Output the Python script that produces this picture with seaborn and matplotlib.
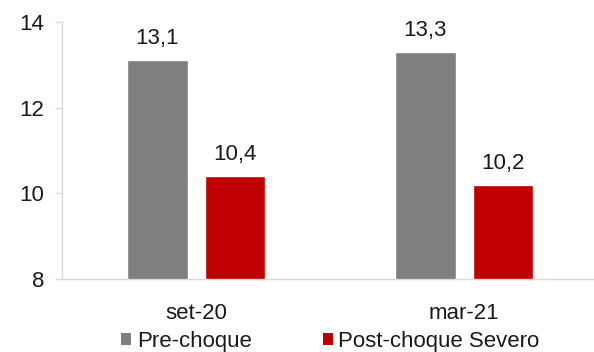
import matplotlib
matplotlib.use("Agg")
import matplotlib.pyplot as plt
import seaborn as sns
import pandas as pd
from matplotlib.patches import Patch

categories = ["set-20", "mar-21"]
series_names = ["Pre-choque", "Post-choque Severo"]
pre_choque = [13.1, 13.3]
post_choque = [10.4, 10.2]
colors = ["#7F7F7F", "#C00000"]

df = pd.DataFrame({
    "periodo": categories * 2,
    "cenario": [series_names[0]] * len(categories) + [series_names[1]] * len(categories),
    "valor": pre_choque + post_choque,
})

sns.set_theme(style="white")
plt.rcParams["font.family"] = ["Liberation Sans", "DejaVu Sans"]

fig = plt.figure(figsize=(5.94, 3.52), dpi=100)
ax = fig.add_axes([0.105, 0.207, 0.902, 0.731])

sns.barplot(data=df, x="periodo", y="valor", hue="cenario", order=categories,
            hue_order=series_names, palette=colors, width=0.58, gap=0.22,
            saturation=1, legend=False, ax=ax)

ax.set_ylim(8, 14)
ax.set_yticks([8, 10, 12, 14])
ax.set_xlim(-0.5, 1.5)
ax.set_xlabel("")
ax.set_ylabel("")

for container in ax.containers:
    labels = [f"{v:.1f}".replace(".", ",") for v in container.datavalues]
    ax.bar_label(container, labels=labels, padding=8, fontsize=16, color="#1a1a1a")

for side in ["top", "right"]:
    ax.spines[side].set_visible(False)
for side in ["left", "bottom"]:
    ax.spines[side].set_color("#D9D9D9")
    ax.spines[side].set_linewidth(1.0)
ax.spines["bottom"].set_clip_on(False)

ax.tick_params(axis="y", which="both", left=True, length=5, width=1,
               color="#D9D9D9", labelsize=16, labelcolor="#1a1a1a", pad=8)
ax.tick_params(axis="x", bottom=False, labelsize=16, labelcolor="#1a1a1a", pad=11)

handles = [Patch(facecolor=c, edgecolor="none") for c in colors]
fig.legend(handles, series_names, loc="center left", bbox_to_anchor=(0.204, 0.03),
           ncol=2, frameon=False, fontsize=16, handlelength=0.45, handleheight=0.45,
           handletextpad=0.25, columnspacing=3.2, borderpad=0, borderaxespad=0,
           labelcolor="#1a1a1a")

fig.savefig("out.png", dpi=100)
